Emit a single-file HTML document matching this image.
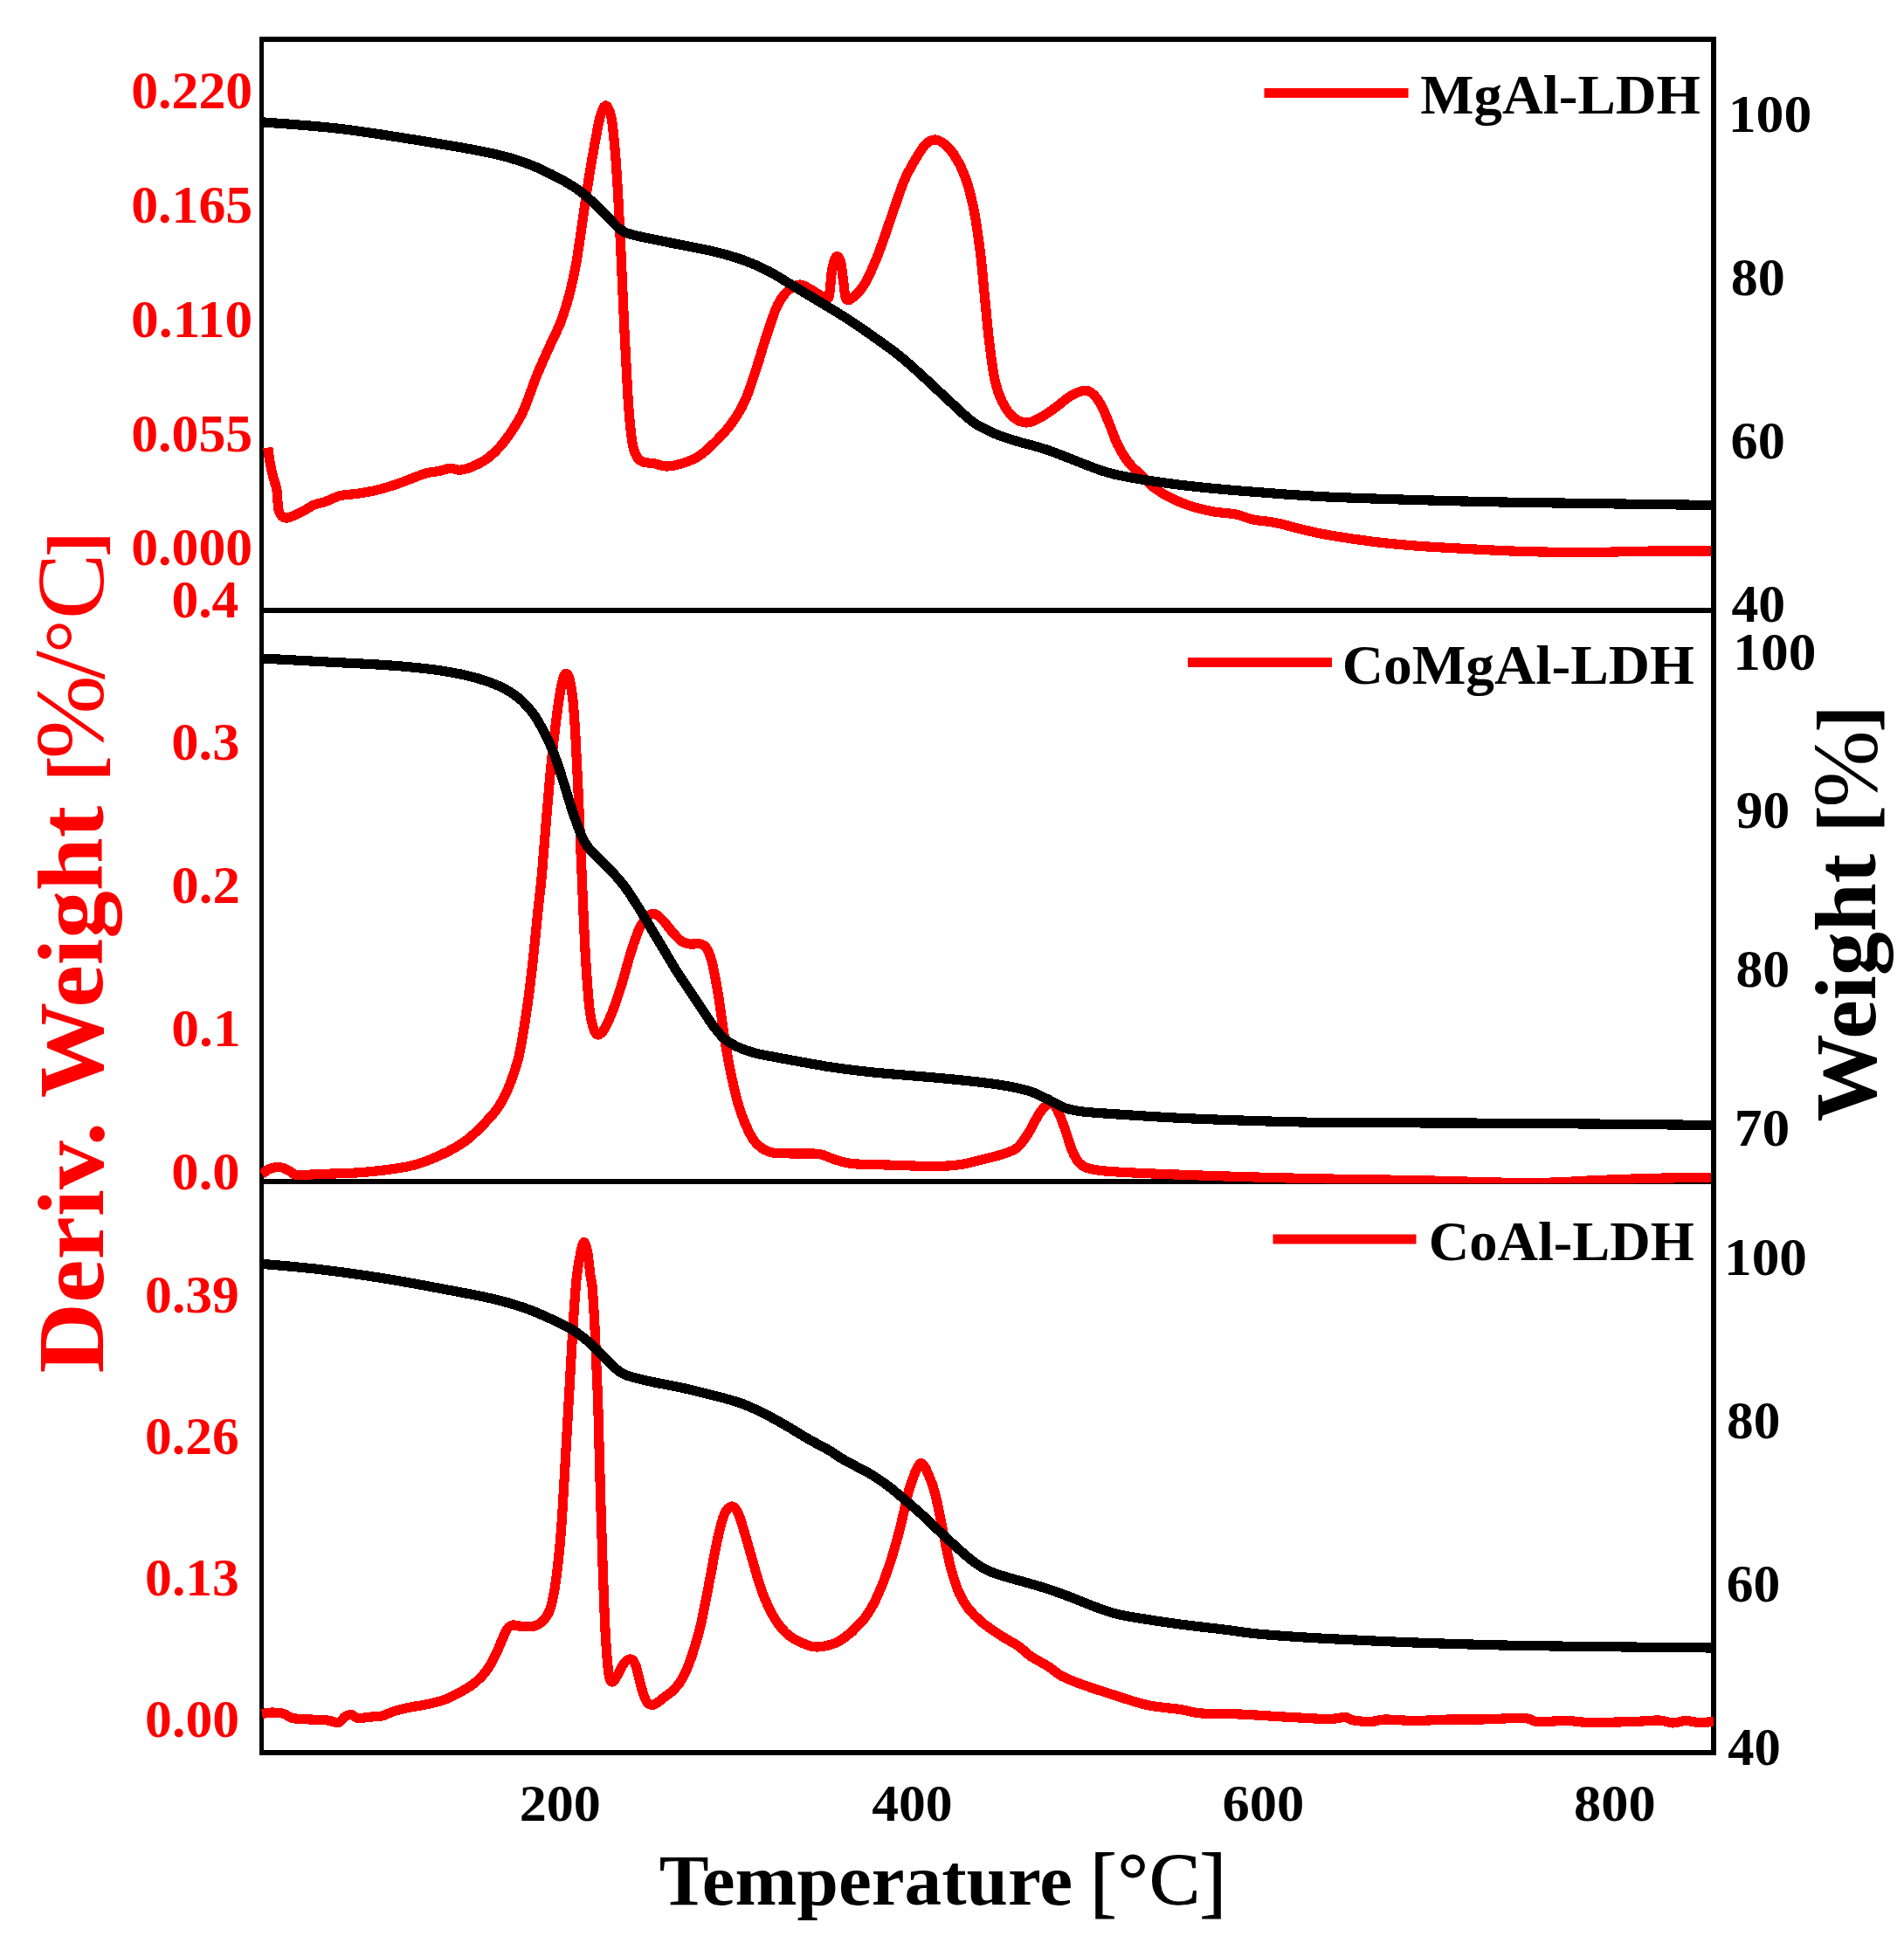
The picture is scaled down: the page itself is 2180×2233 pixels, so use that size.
<!DOCTYPE html>
<html lang="en"><head><meta charset="utf-8"><title>TG/DTG curves of LDH samples</title>
<style>html,body{margin:0;padding:0;background:#fff;}svg{display:block;}text{font-family:"Liberation Serif", serif;}.b{font-weight:bold;}.r{fill:#ff0000;}</style></head><body>
<svg width="2180" height="2233" viewBox="0 0 2180 2233">
<rect x="0" y="0" width="2180" height="2233" fill="#fff"/>
<defs><clipPath id="c1"><rect x="298" y="45" width="1661" height="654"/></clipPath><clipPath id="c2"><rect x="298" y="699" width="1661" height="656.2"/></clipPath><clipPath id="c3"><rect x="298" y="1353" width="1664" height="654"/></clipPath></defs>
<g fill="none" stroke="#000" stroke-width="5.6" stroke-linecap="square" shape-rendering="crispEdges">
<rect x="299.5" y="45.0" width="1662.5" height="1962.0"/>
<line x1="299.5" y1="699.0" x2="1962.0" y2="699.0"/>
<line x1="299.5" y1="1353.0" x2="1962.0" y2="1353.0"/>
</g>
<g fill="none" stroke-linejoin="round" stroke-linecap="butt" shape-rendering="crispEdges" clip-path="url(#c1)">
<path stroke="#ff0000" stroke-width="11.2" d="M306.8,512.5C307.1,515.0 307.8,522.1 308.8,527.5C309.7,532.9 311.2,539.6 312.5,545.0C313.8,550.4 315.8,555.0 316.8,560.0C317.7,565.0 317.5,570.7 318.0,575.0C318.5,579.3 318.5,583.2 319.5,586.0C320.5,588.8 322.2,590.8 323.8,592.0C325.3,593.2 326.7,593.2 328.8,593.0C330.8,592.8 333.1,591.8 336.2,590.5C339.4,589.2 343.5,587.1 347.5,585.0C351.5,582.9 355.8,579.8 360.0,578.0C364.2,576.2 367.5,576.2 372.5,574.5C377.5,572.8 384.2,569.0 390.0,567.5C395.8,566.0 400.8,566.5 407.5,565.5C414.2,564.5 422.5,563.2 430.0,561.5C437.5,559.8 445.8,557.2 452.5,555.0C459.2,552.8 464.2,550.7 470.0,548.5C475.8,546.3 482.1,543.5 487.5,542.0C492.9,540.5 498.3,540.4 502.5,539.5C506.7,538.6 509.6,537.2 512.5,536.8C515.4,536.3 517.8,536.8 520.0,537.0C522.2,537.2 523.3,538.4 526.0,538.2C528.7,538.1 532.0,537.6 536.0,536.2C540.0,534.9 546.0,532.1 550.0,530.0C554.0,527.9 556.2,526.6 560.0,523.5C563.8,520.4 568.3,516.2 572.5,511.5C576.7,506.8 580.6,501.8 585.0,495.0C589.4,488.2 594.0,482.0 599.0,471.0C604.0,460.0 609.8,441.7 615.0,429.0C620.2,416.3 625.4,405.2 630.0,395.0C634.6,384.8 638.8,377.5 642.5,367.5C646.2,357.5 649.6,346.2 652.5,335.0C655.4,323.8 657.8,312.5 660.0,300.0C662.2,287.5 663.9,274.2 666.0,260.0C668.1,245.8 670.2,230.0 672.5,215.0C674.8,200.0 677.5,183.8 680.0,170.0C682.5,156.2 685.2,140.7 687.5,132.5C689.8,124.3 691.9,120.6 694.0,121.0C696.1,121.4 698.3,126.8 700.0,135.0C701.7,143.2 702.8,155.8 704.0,170.0C705.2,184.2 706.3,200.0 707.5,220.0C708.7,240.0 709.8,263.3 711.0,290.0C712.2,316.7 713.7,352.5 715.0,380.0C716.3,407.5 717.7,435.0 719.0,455.0C720.3,475.0 721.6,489.2 723.0,500.0C724.4,510.8 725.5,515.2 727.5,520.0C729.5,524.8 731.2,526.7 735.0,528.5C738.8,530.3 745.4,530.1 750.0,531.0C754.6,531.9 757.5,534.0 762.5,534.0C767.5,534.0 773.8,532.9 780.0,531.0C786.2,529.1 793.3,526.8 800.0,522.5C806.7,518.2 813.8,511.2 820.0,505.0C826.2,498.8 832.1,492.5 837.5,485.0C842.9,477.5 847.9,470.0 852.5,460.0C857.1,450.0 860.8,437.5 865.0,425.0C869.2,412.5 873.3,397.5 877.5,385.0C881.7,372.5 885.8,358.8 890.0,350.0C894.2,341.2 898.2,336.5 902.5,332.5C906.8,328.5 911.4,326.0 916.0,326.0C920.6,326.0 925.6,330.2 930.0,332.5C934.4,334.8 939.3,338.8 942.5,340.0C945.7,341.2 947.3,345.0 949.0,340.0C950.7,335.0 951.1,317.7 952.5,310.0C953.9,302.3 955.8,295.7 957.5,294.0C959.2,292.3 961.1,294.8 962.5,300.0C963.9,305.2 964.9,317.9 966.0,325.0C967.1,332.1 967.1,340.0 969.0,342.5C970.9,345.0 974.0,342.9 977.5,340.0C981.0,337.1 985.4,332.9 990.0,325.0C994.6,317.1 1000.0,305.0 1005.0,292.5C1010.0,280.0 1015.0,264.2 1020.0,250.0C1025.0,235.8 1030.2,219.0 1035.0,207.5C1039.8,196.0 1044.8,188.1 1049.0,181.0C1053.2,173.9 1056.5,168.5 1060.0,165.0C1063.5,161.5 1066.7,160.2 1070.0,160.0C1073.3,159.8 1076.2,161.1 1080.0,164.0C1083.8,166.9 1088.3,171.1 1092.5,177.5C1096.7,183.9 1101.2,192.1 1105.0,202.5C1108.8,212.9 1112.1,225.4 1115.0,240.0C1117.9,254.6 1120.4,273.3 1122.5,290.0C1124.6,306.7 1125.8,323.3 1127.5,340.0C1129.2,356.7 1130.6,374.2 1132.5,390.0C1134.4,405.8 1136.5,423.3 1139.0,435.0C1141.5,446.7 1144.0,452.9 1147.5,460.0C1151.0,467.1 1155.4,473.5 1160.0,477.5C1164.6,481.5 1170.0,483.8 1175.0,484.0C1180.0,484.2 1184.6,481.8 1190.0,479.0C1195.4,476.2 1201.7,471.7 1207.5,467.5C1213.3,463.3 1219.6,457.3 1225.0,454.0C1230.4,450.7 1235.8,448.2 1240.0,447.5C1244.2,446.8 1246.7,447.5 1250.0,450.0C1253.3,452.5 1256.7,456.7 1260.0,462.5C1263.3,468.3 1266.7,477.1 1270.0,485.0C1273.3,492.9 1276.2,502.5 1280.0,510.0C1283.8,517.5 1287.9,524.2 1292.5,530.0C1297.1,535.8 1302.9,540.4 1307.5,545.0C1312.1,549.6 1314.6,553.3 1320.0,557.5C1325.4,561.7 1332.5,566.2 1340.0,570.0C1347.5,573.8 1356.7,577.3 1365.0,580.0C1373.3,582.7 1381.7,584.5 1390.0,586.0C1398.3,587.5 1407.5,587.5 1415.0,589.0C1422.5,590.5 1427.5,593.4 1435.0,595.0C1442.5,596.6 1450.8,596.7 1460.0,598.5C1469.2,600.3 1480.0,603.7 1490.0,606.0C1500.0,608.3 1506.7,610.2 1520.0,612.5C1533.3,614.8 1553.3,617.9 1570.0,620.0C1586.7,622.1 1603.3,623.7 1620.0,625.0C1636.7,626.3 1649.2,626.9 1670.0,628.0C1690.8,629.1 1720.0,630.8 1745.0,631.5C1770.0,632.2 1795.0,632.6 1820.0,632.5C1845.0,632.4 1871.3,631.2 1895.0,631.0C1918.7,630.8 1950.8,631.0 1962.0,631.0"/>
<path stroke="#000" stroke-width="11.2" d="M302.0,140.0C316.7,141.2 358.7,143.8 390.0,147.5C421.3,151.2 460.8,157.8 490.0,162.5C519.2,167.2 546.7,172.1 565.0,176.0C583.3,179.9 589.2,182.2 600.0,186.0C610.8,189.8 620.0,194.0 630.0,199.0C640.0,204.0 651.7,210.4 660.0,216.0C668.3,221.6 674.2,227.2 680.0,232.5C685.8,237.8 690.0,242.5 695.0,247.5C700.0,252.5 705.0,258.9 710.0,262.5C715.0,266.1 715.8,266.5 725.0,269.0C734.2,271.5 750.0,274.4 765.0,277.5C780.0,280.6 800.8,284.2 815.0,287.5C829.2,290.8 839.2,293.7 850.0,297.5C860.8,301.3 870.0,305.3 880.0,310.5C890.0,315.7 900.0,322.5 910.0,328.5C920.0,334.5 930.0,340.4 940.0,346.5C950.0,352.6 960.0,358.5 970.0,365.0C980.0,371.5 990.0,378.4 1000.0,385.5C1010.0,392.6 1020.0,399.4 1030.0,407.5C1040.0,415.6 1050.0,424.9 1060.0,434.0C1070.0,443.1 1080.8,453.7 1090.0,462.0C1099.2,470.3 1106.7,478.2 1115.0,484.0C1123.3,489.8 1131.7,493.4 1140.0,497.0C1148.3,500.6 1155.0,502.4 1165.0,505.5C1175.0,508.6 1184.2,510.0 1200.0,515.5C1215.8,521.0 1245.0,533.4 1260.0,538.5C1275.0,543.6 1278.3,543.7 1290.0,546.0C1301.7,548.3 1315.0,550.4 1330.0,552.5C1345.0,554.6 1360.8,556.6 1380.0,558.5C1399.2,560.4 1421.7,562.2 1445.0,564.0C1468.3,565.8 1490.8,567.6 1520.0,569.0C1549.2,570.4 1586.7,571.5 1620.0,572.5C1653.3,573.5 1686.7,574.3 1720.0,575.0C1753.3,575.7 1779.7,575.9 1820.0,576.5C1860.3,577.1 1938.3,578.2 1962.0,578.5"/>
</g>
<g fill="none" stroke-linejoin="round" stroke-linecap="butt" shape-rendering="crispEdges" clip-path="url(#c2)">
<path stroke="#ff0000" stroke-width="11.2" d="M300.0,1345.0C301.2,1344.0 304.2,1340.4 307.5,1339.0C310.8,1337.6 316.2,1336.3 320.0,1336.5C323.8,1336.7 326.7,1338.5 330.0,1340.0C333.3,1341.5 334.2,1344.8 340.0,1345.5C345.8,1346.2 352.5,1345.0 365.0,1344.5C377.5,1344.0 398.3,1343.9 415.0,1342.5C431.7,1341.1 452.5,1338.5 465.0,1336.2C477.5,1334.0 481.7,1331.9 490.0,1328.8C498.3,1325.6 507.5,1321.5 515.0,1317.5C522.5,1313.5 528.8,1309.8 535.0,1305.0C541.2,1300.2 547.1,1294.2 552.5,1288.8C557.9,1283.2 563.2,1277.6 567.5,1272.0C571.8,1266.4 575.2,1260.3 578.0,1255.0C580.8,1249.7 581.9,1246.8 584.4,1240.0C586.9,1233.2 590.6,1222.8 592.9,1214.3C595.2,1205.8 596.2,1199.6 598.0,1189.1C599.8,1178.6 602.1,1163.9 603.9,1151.3C605.7,1138.7 607.2,1126.1 608.7,1113.5C610.2,1100.9 611.4,1088.2 612.7,1075.6C614.0,1063.0 615.2,1049.9 616.5,1037.8C617.8,1025.7 619.3,1013.6 620.3,1003.0C621.3,992.4 621.7,985.4 622.6,974.3C623.5,963.2 624.7,949.1 625.7,936.5C626.8,923.9 627.8,911.3 628.9,898.7C630.0,886.1 631.2,873.4 632.6,860.8C634.0,848.2 635.5,834.5 637.0,823.0C638.5,811.5 640.2,799.8 641.5,792.0C642.8,784.2 643.9,780.0 645.0,776.5C646.1,773.0 647.0,771.0 648.2,771.2C649.4,771.4 650.7,772.3 652.0,777.5C653.3,782.7 654.8,791.2 656.0,802.5C657.2,813.8 658.0,827.9 659.0,845.0C660.0,862.1 661.0,883.3 662.0,905.0C663.0,926.7 664.0,951.7 665.0,975.0C666.0,998.3 667.0,1023.3 668.0,1045.0C669.0,1066.7 669.8,1086.7 671.0,1105.0C672.2,1123.3 673.5,1142.7 675.0,1155.0C676.5,1167.3 678.3,1174.0 680.0,1179.0C681.7,1184.0 682.9,1185.2 685.0,1185.0C687.1,1184.8 689.6,1182.5 692.5,1177.5C695.4,1172.5 699.2,1163.8 702.5,1155.0C705.8,1146.2 709.2,1135.8 712.5,1125.0C715.8,1114.2 719.2,1100.4 722.5,1090.0C725.8,1079.6 729.2,1069.3 732.5,1062.5C735.8,1055.7 739.6,1051.7 742.5,1049.0C745.4,1046.3 747.1,1045.5 750.0,1046.5C752.9,1047.5 756.7,1051.5 760.0,1055.0C763.3,1058.5 766.7,1063.8 770.0,1067.5C773.3,1071.2 776.7,1075.2 780.0,1077.5C783.3,1079.8 786.2,1080.4 790.0,1081.0C793.8,1081.6 799.2,1079.9 802.5,1081.0C805.8,1082.1 807.8,1083.5 810.0,1087.5C812.2,1091.5 813.9,1096.2 816.0,1105.0C818.1,1113.8 820.3,1126.7 822.5,1140.0C824.7,1153.3 826.8,1170.8 829.0,1185.0C831.2,1199.2 833.5,1212.5 836.0,1225.0C838.5,1237.5 841.2,1250.0 844.0,1260.0C846.8,1270.0 849.4,1277.5 852.5,1285.0C855.6,1292.5 859.2,1300.0 862.5,1305.0C865.8,1310.0 868.8,1312.5 872.5,1315.0C876.2,1317.5 878.8,1319.0 885.0,1320.0C891.2,1321.0 901.2,1320.8 910.0,1321.0C918.8,1321.2 930.0,1320.4 937.5,1321.5C945.0,1322.6 948.8,1325.7 955.0,1327.5C961.2,1329.3 965.0,1331.4 975.0,1332.5C985.0,1333.6 999.2,1333.5 1015.0,1334.0C1030.8,1334.5 1055.8,1335.6 1070.0,1335.5C1084.2,1335.4 1090.0,1335.0 1100.0,1333.5C1110.0,1332.0 1121.7,1328.6 1130.0,1326.5C1138.3,1324.4 1144.2,1323.1 1150.0,1321.0C1155.8,1318.9 1160.4,1317.9 1165.0,1314.0C1169.6,1310.1 1173.3,1304.0 1177.5,1297.5C1181.7,1291.0 1186.4,1280.4 1190.0,1275.0C1193.6,1269.6 1196.5,1267.0 1199.0,1265.0C1201.5,1263.0 1202.8,1261.3 1205.0,1263.0C1207.2,1264.7 1210.0,1269.7 1212.5,1275.0C1215.0,1280.3 1217.5,1287.9 1220.0,1295.0C1222.5,1302.1 1225.0,1311.5 1227.5,1317.5C1230.0,1323.5 1232.1,1327.7 1235.0,1331.0C1237.9,1334.3 1240.0,1335.8 1245.0,1337.5C1250.0,1339.2 1252.5,1339.9 1265.0,1341.0C1277.5,1342.1 1294.2,1342.9 1320.0,1344.0C1345.8,1345.1 1386.7,1346.5 1420.0,1347.5C1453.3,1348.5 1486.7,1349.3 1520.0,1350.0C1553.3,1350.7 1590.8,1350.9 1620.0,1351.5C1649.2,1352.1 1675.0,1353.0 1695.0,1353.5C1715.0,1354.0 1725.8,1354.4 1740.0,1354.5C1754.2,1354.6 1765.0,1354.5 1780.0,1354.0C1795.0,1353.5 1810.8,1352.3 1830.0,1351.5C1849.2,1350.7 1873.0,1349.8 1895.0,1349.2C1917.0,1348.8 1950.8,1348.6 1962.0,1348.5"/>
<path stroke="#000" stroke-width="11.2" d="M300.0,754.0C310.8,754.6 341.7,756.2 365.0,757.5C388.3,758.8 419.2,760.1 440.0,761.5C460.8,762.9 475.0,764.2 490.0,766.0C505.0,767.8 518.3,770.0 530.0,772.5C541.7,775.0 551.7,778.1 560.0,781.0C568.3,783.9 573.8,786.4 580.0,790.0C586.2,793.6 592.1,797.5 597.5,802.5C602.9,807.5 607.9,813.3 612.5,820.0C617.1,826.7 621.2,835.0 625.0,842.5C628.8,850.0 631.7,856.2 635.0,865.0C638.3,873.8 641.7,884.6 645.0,895.0C648.3,905.4 651.7,917.5 655.0,927.5C658.3,937.5 662.1,948.1 665.0,955.0C667.9,961.9 669.2,964.4 672.5,969.0C675.8,973.6 680.4,977.8 685.0,982.5C689.6,987.2 695.0,992.1 700.0,997.5C705.0,1002.9 710.0,1008.3 715.0,1015.0C720.0,1021.7 725.0,1029.6 730.0,1037.5C735.0,1045.4 740.0,1054.2 745.0,1062.5C750.0,1070.8 755.0,1079.2 760.0,1087.5C765.0,1095.8 770.0,1104.6 775.0,1112.5C780.0,1120.4 785.0,1127.5 790.0,1135.0C795.0,1142.5 800.4,1150.7 805.0,1157.5C809.6,1164.3 813.3,1170.6 817.5,1176.0C821.7,1181.4 825.4,1186.2 830.0,1190.0C834.6,1193.8 839.2,1196.3 845.0,1199.0C850.8,1201.7 857.5,1204.0 865.0,1206.0C872.5,1208.0 880.8,1209.2 890.0,1211.0C899.2,1212.8 909.2,1214.6 920.0,1216.5C930.8,1218.4 941.7,1220.6 955.0,1222.5C968.3,1224.4 980.8,1226.1 1000.0,1228.0C1019.2,1229.9 1050.0,1232.2 1070.0,1234.0C1090.0,1235.8 1105.8,1237.3 1120.0,1239.0C1134.2,1240.7 1145.0,1242.2 1155.0,1244.0C1165.0,1245.8 1172.5,1247.5 1180.0,1250.0C1187.5,1252.5 1193.3,1255.8 1200.0,1259.0C1206.7,1262.2 1213.3,1266.7 1220.0,1269.0C1226.7,1271.3 1230.0,1271.8 1240.0,1273.0C1250.0,1274.2 1262.5,1274.8 1280.0,1276.0C1297.5,1277.2 1321.7,1278.8 1345.0,1280.0C1368.3,1281.2 1390.8,1282.1 1420.0,1283.0C1449.2,1283.9 1478.3,1285.0 1520.0,1285.5C1561.7,1286.0 1620.0,1285.8 1670.0,1286.0C1720.0,1286.2 1771.3,1286.6 1820.0,1287.0C1868.7,1287.4 1938.3,1288.2 1962.0,1288.5"/>
</g>
<g fill="none" stroke-linejoin="round" stroke-linecap="butt" shape-rendering="crispEdges" clip-path="url(#c3)">
<path stroke="#ff0000" stroke-width="11.2" d="M300.0,1962.5C302.1,1962.2 308.3,1961.0 312.5,1961.0C316.7,1961.0 321.2,1961.4 325.0,1962.5C328.8,1963.6 330.0,1966.4 335.0,1967.5C340.0,1968.6 348.3,1968.6 355.0,1969.0C361.7,1969.4 369.6,1969.4 375.0,1970.0C380.4,1970.6 384.2,1973.2 387.5,1972.5C390.8,1971.8 392.5,1967.5 395.0,1966.0C397.5,1964.5 400.0,1963.2 402.5,1963.5C405.0,1963.8 406.2,1967.1 410.0,1967.5C413.8,1967.9 420.4,1966.4 425.0,1966.0C429.6,1965.6 433.3,1966.0 437.5,1965.0C441.7,1964.0 444.6,1961.7 450.0,1960.0C455.4,1958.3 463.3,1956.4 470.0,1955.0C476.7,1953.6 483.3,1953.0 490.0,1951.5C496.7,1950.0 503.3,1948.6 510.0,1946.0C516.7,1943.4 524.2,1939.3 530.0,1936.0C535.8,1932.7 540.4,1929.9 545.0,1926.0C549.6,1922.1 553.8,1917.7 557.5,1912.5C561.2,1907.3 564.6,1900.8 567.5,1895.0C570.4,1889.2 572.8,1882.5 575.0,1877.5C577.2,1872.5 578.9,1867.8 581.0,1865.0C583.1,1862.2 584.8,1861.4 587.5,1861.0C590.2,1860.6 593.8,1862.2 597.5,1862.5C601.2,1862.8 606.2,1863.3 610.0,1862.5C613.8,1861.7 616.8,1860.4 620.0,1857.5C623.2,1854.6 626.5,1851.2 629.0,1845.0C631.5,1838.8 633.2,1830.8 635.0,1820.0C636.8,1809.2 638.5,1795.0 640.0,1780.0C641.5,1765.0 642.7,1750.0 644.0,1730.0C645.3,1710.0 646.7,1683.3 648.0,1660.0C649.3,1636.7 650.7,1613.3 652.0,1590.0C653.3,1566.7 654.7,1540.8 656.0,1520.0C657.3,1499.2 658.6,1478.8 660.0,1465.0C661.4,1451.2 663.2,1443.8 664.2,1437.5C665.3,1431.2 665.8,1429.5 666.5,1427.0C667.2,1424.5 668.0,1422.5 668.8,1422.5C669.5,1422.5 670.2,1424.5 671.0,1427.0C671.8,1429.5 672.4,1431.6 673.2,1437.5C674.1,1443.4 675.4,1456.2 676.2,1462.5C677.1,1468.8 677.4,1463.8 678.2,1475.0C679.1,1486.2 680.4,1507.5 681.5,1530.0C682.6,1552.5 683.8,1581.7 684.8,1610.0C685.7,1638.3 686.4,1670.0 687.2,1700.0C688.1,1730.0 689.0,1761.7 690.0,1790.0C691.0,1818.3 692.1,1849.2 693.2,1870.0C694.4,1890.8 695.5,1905.7 696.8,1915.0C698.0,1924.3 699.2,1925.6 701.0,1926.0C702.8,1926.4 705.2,1921.2 707.5,1917.5C709.8,1913.8 712.5,1906.9 715.0,1904.0C717.5,1901.1 720.4,1899.7 722.5,1900.0C724.6,1900.3 725.8,1901.8 727.5,1906.0C729.2,1910.2 730.8,1918.9 732.5,1925.0C734.2,1931.1 735.8,1938.2 737.5,1942.5C739.2,1946.8 740.4,1949.5 742.5,1951.0C744.6,1952.5 747.1,1952.7 750.0,1951.5C752.9,1950.3 756.2,1946.9 760.0,1944.0C763.8,1941.1 768.8,1938.0 772.5,1934.0C776.2,1930.0 779.2,1926.5 782.5,1920.0C785.8,1913.5 789.2,1905.0 792.5,1895.0C795.8,1885.0 799.2,1874.2 802.5,1860.0C805.8,1845.8 809.4,1825.8 812.5,1810.0C815.6,1794.2 818.2,1777.5 821.0,1765.0C823.8,1752.5 826.2,1741.7 829.0,1735.0C831.8,1728.3 834.8,1725.4 837.5,1725.0C840.2,1724.6 842.5,1727.5 845.0,1732.5C847.5,1737.5 849.6,1745.4 852.5,1755.0C855.4,1764.6 859.2,1778.8 862.5,1790.0C865.8,1801.2 868.8,1812.5 872.5,1822.5C876.2,1832.5 880.4,1842.1 885.0,1850.0C889.6,1857.9 894.6,1864.8 900.0,1870.0C905.4,1875.2 911.7,1878.3 917.5,1881.0C923.3,1883.7 928.3,1886.0 935.0,1886.0C941.7,1886.0 950.8,1883.8 957.5,1881.0C964.2,1878.2 971.9,1871.2 975.0,1869.0C978.1,1866.8 973.8,1869.8 976.0,1867.5C978.2,1865.2 984.5,1860.0 988.5,1855.0C992.5,1850.0 996.0,1844.6 999.8,1837.5C1003.5,1830.4 1007.7,1820.8 1011.0,1812.5C1014.3,1804.2 1017.0,1795.8 1019.8,1787.5C1022.5,1779.2 1025.0,1770.8 1027.2,1762.5C1029.5,1754.2 1031.5,1746.1 1033.5,1737.5C1035.5,1728.9 1037.4,1718.9 1039.5,1711.0C1041.6,1703.1 1044.4,1695.2 1046.3,1690.0C1048.2,1684.8 1049.6,1681.9 1051.0,1679.5C1052.4,1677.1 1053.5,1675.5 1054.8,1675.5C1056.0,1675.5 1057.3,1677.3 1058.7,1679.5C1060.1,1681.7 1061.5,1685.1 1063.0,1688.5C1064.5,1691.9 1066.1,1695.8 1067.5,1700.0C1068.9,1704.2 1070.2,1709.0 1071.5,1714.0C1072.8,1719.0 1073.6,1723.2 1075.0,1730.0C1076.4,1736.8 1078.3,1746.7 1080.0,1755.0C1081.7,1763.3 1083.2,1772.2 1085.0,1780.0C1086.8,1787.8 1088.3,1794.7 1090.5,1802.0C1092.7,1809.3 1095.1,1817.5 1098.0,1824.0C1100.9,1830.5 1103.7,1835.4 1108.0,1841.0C1112.3,1846.6 1117.7,1852.2 1124.0,1857.5C1130.3,1862.8 1139.0,1868.4 1146.0,1873.0C1153.0,1877.6 1160.3,1881.1 1166.0,1885.0C1171.7,1888.9 1174.2,1892.5 1180.0,1896.5C1185.8,1900.5 1195.0,1904.9 1201.0,1908.8C1207.0,1912.6 1209.8,1916.2 1216.0,1919.5C1222.2,1922.8 1228.5,1925.1 1238.5,1928.8C1248.5,1932.4 1263.5,1937.3 1276.0,1941.2C1288.5,1945.2 1301.0,1949.8 1313.5,1952.5C1326.0,1955.2 1340.6,1955.9 1351.0,1957.5C1361.4,1959.1 1364.5,1961.1 1376.0,1962.0C1387.5,1962.9 1404.3,1962.3 1420.0,1963.0C1435.7,1963.7 1453.3,1965.1 1470.0,1966.0C1486.7,1966.9 1508.3,1968.4 1520.0,1968.5C1531.7,1968.6 1535.0,1966.2 1540.0,1966.5C1545.0,1966.8 1545.0,1969.2 1550.0,1970.0C1555.0,1970.8 1564.2,1971.7 1570.0,1971.5C1575.8,1971.3 1576.7,1969.2 1585.0,1969.0C1593.3,1968.8 1607.5,1970.5 1620.0,1970.5C1632.5,1970.5 1647.5,1969.2 1660.0,1969.0C1672.5,1968.8 1680.8,1969.2 1695.0,1969.0C1709.2,1968.8 1734.2,1967.1 1745.0,1967.5C1755.8,1967.9 1751.7,1971.0 1760.0,1971.5C1768.3,1972.0 1785.0,1970.3 1795.0,1970.5C1805.0,1970.7 1807.5,1972.3 1820.0,1972.5C1832.5,1972.7 1856.7,1971.9 1870.0,1971.5C1883.3,1971.1 1892.5,1969.8 1900.0,1970.0C1907.5,1970.2 1910.0,1972.9 1915.0,1973.0C1920.0,1973.1 1925.0,1970.6 1930.0,1970.5C1935.0,1970.4 1939.7,1972.3 1945.0,1972.5C1950.3,1972.7 1959.2,1971.7 1962.0,1971.5"/>
<path stroke="#000" stroke-width="11.2" d="M302.0,1447.5C312.5,1448.5 342.0,1450.8 365.0,1453.5C388.0,1456.2 415.0,1460.0 440.0,1464.0C465.0,1468.0 494.2,1473.6 515.0,1477.5C535.8,1481.4 550.8,1484.2 565.0,1487.5C579.2,1490.8 589.2,1493.8 600.0,1497.5C610.8,1501.2 620.8,1505.8 630.0,1510.0C639.2,1514.2 647.5,1517.9 655.0,1522.5C662.5,1527.1 669.2,1532.5 675.0,1537.5C680.8,1542.5 685.4,1547.9 690.0,1552.5C694.6,1557.1 698.3,1561.4 702.5,1565.0C706.7,1568.6 708.8,1571.3 715.0,1574.0C721.2,1576.7 729.2,1578.5 740.0,1581.0C750.8,1583.5 770.0,1586.9 780.0,1589.0C790.0,1591.1 792.5,1591.9 800.0,1593.8C807.5,1595.6 816.7,1597.7 825.0,1600.0C833.3,1602.3 841.7,1604.4 850.0,1607.5C858.3,1610.6 866.7,1614.6 875.0,1618.8C883.3,1622.9 891.7,1627.7 900.0,1632.5C908.3,1637.3 916.7,1642.7 925.0,1647.5C933.3,1652.3 943.8,1657.6 950.0,1661.2C956.2,1664.9 957.5,1666.5 962.5,1669.5C967.5,1672.5 973.8,1675.6 980.0,1679.0C986.2,1682.4 993.3,1685.8 1000.0,1690.0C1006.7,1694.2 1013.8,1699.2 1020.0,1704.0C1026.2,1708.8 1031.7,1713.8 1037.5,1718.8C1043.3,1723.8 1048.8,1728.3 1055.0,1734.0C1061.2,1739.7 1068.3,1746.8 1075.0,1753.0C1081.7,1759.2 1088.7,1765.8 1095.0,1771.5C1101.3,1777.2 1107.2,1782.6 1113.0,1787.0C1118.8,1791.4 1123.7,1794.9 1130.0,1798.0C1136.3,1801.1 1143.3,1803.1 1151.0,1805.5C1158.7,1807.9 1167.7,1810.1 1176.0,1812.5C1184.3,1814.9 1192.7,1817.2 1201.0,1820.0C1209.3,1822.8 1217.7,1825.8 1226.0,1829.0C1234.3,1832.2 1242.7,1835.9 1251.0,1839.0C1259.3,1842.1 1267.7,1845.2 1276.0,1847.5C1284.3,1849.8 1288.5,1850.4 1301.0,1852.5C1313.5,1854.6 1334.3,1857.8 1351.0,1860.0C1367.7,1862.2 1385.3,1864.1 1401.0,1866.0C1416.7,1867.9 1425.2,1869.8 1445.0,1871.5C1464.8,1873.2 1490.8,1874.9 1520.0,1876.5C1549.2,1878.1 1586.7,1879.8 1620.0,1881.0C1653.3,1882.2 1686.7,1883.2 1720.0,1884.0C1753.3,1884.8 1779.7,1885.0 1820.0,1885.5C1860.3,1886.0 1938.3,1886.8 1962.0,1887.0"/>
</g>
<text transform="translate(150.18,124.28) scale(1.0077,1.0000)" font-size="61.32" class="b r">0.220</text>
<text transform="translate(150.18,255.38) scale(1.0077,1.0000)" font-size="61.32" class="b r">0.165</text>
<text transform="translate(150.12,386.48) scale(1.0338,1.0000)" font-size="61.32" class="b r">0.110</text>
<text transform="translate(150.18,516.98) scale(1.0077,1.0000)" font-size="61.32" class="b r">0.055</text>
<text transform="translate(150.18,646.98) scale(1.0077,1.0000)" font-size="61.32" class="b r">0.000</text>
<text transform="translate(196.39,706.58) scale(1.0043,1.0000)" font-size="61.32" class="b r">0.4</text>
<text transform="translate(196.36,870.38) scale(1.0193,1.0000)" font-size="61.32" class="b r">0.3</text>
<text transform="translate(196.34,1034.08) scale(1.0258,1.0000)" font-size="61.32" class="b r">0.2</text>
<text transform="translate(196.32,1198.28) scale(1.0346,1.0000)" font-size="61.32" class="b r">0.1</text>
<text transform="translate(196.35,1361.58) scale(1.0214,1.0000)" font-size="61.32" class="b r">0.0</text>
<text transform="translate(166.09,1502.98) scale(1.0051,1.0000)" font-size="61.32" class="b r">0.39</text>
<text transform="translate(166.10,1665.08) scale(1.0022,1.0000)" font-size="61.32" class="b r">0.26</text>
<text transform="translate(166.09,1827.08) scale(1.0051,1.0000)" font-size="61.32" class="b r">0.13</text>
<text transform="translate(166.09,1989.08) scale(1.0067,1.0000)" font-size="61.32" class="b r">0.00</text>
<text transform="translate(1978.70,151.38) scale(1.0278,1.0000)" font-size="62.07" class="b">100</text>
<text transform="translate(1981.78,338.28) scale(1.0012,1.0000)" font-size="62.07" class="b">80</text>
<text transform="translate(1981.62,525.28) scale(1.0039,1.0000)" font-size="62.07" class="b">60</text>
<text transform="translate(1982.53,712.18) scale(0.9937,1.0000)" font-size="62.07" class="b">40</text>
<text transform="translate(1984.23,767.08) scale(1.0219,1.0000)" font-size="62.07" class="b">100</text>
<text transform="translate(1987.71,948.08) scale(0.9907,1.0000)" font-size="62.07" class="b">90</text>
<text transform="translate(1987.39,1130.48) scale(0.9960,1.0000)" font-size="62.07" class="b">80</text>
<text transform="translate(1985.75,1311.68) scale(1.0235,1.0000)" font-size="62.07" class="b">70</text>
<text transform="translate(1973.93,1459.88) scale(1.0219,1.0000)" font-size="62.07" class="b">100</text>
<text transform="translate(1977.00,1647.08) scale(0.9891,1.0000)" font-size="62.07" class="b">80</text>
<text transform="translate(1976.85,1833.68) scale(0.9918,1.0000)" font-size="62.07" class="b">60</text>
<text transform="translate(1978.24,2020.88) scale(0.9768,1.0000)" font-size="62.07" class="b">40</text>
<text transform="translate(594.66,2085.41) scale(1.0482,1.0000)" font-size="59.26" class="b">200</text>
<text transform="translate(998.13,2085.41) scale(1.0393,1.0000)" font-size="59.26" class="b">400</text>
<text transform="translate(1399.51,2085.41) scale(1.0545,1.0000)" font-size="59.26" class="b">600</text>
<text transform="translate(1802.07,2085.41) scale(1.0526,1.0000)" font-size="59.26" class="b">800</text>
<text transform="scale(1.0203,1)"><tspan x="739.70" y="2180.70" font-size="83.51" class="b">Temperature </tspan><tspan x="1223.07" y="2184.85" font-size="90.00" stroke="#000" stroke-width="1.00">[</tspan><tspan x="1254.39" y="2180.82" font-size="85.29" stroke="#000" stroke-width="1.00">°</tspan><tspan x="1289.90" y="2180.65" font-size="85.35" stroke="#000" stroke-width="1.00">C</tspan><tspan x="1346.08" y="2184.85" font-size="90.00" stroke="#000" stroke-width="1.00">]</tspan></text>
<g transform="translate(118.3,1570) rotate(-90)">
<text transform="scale(1.0280,1)" class="r"><tspan x="-2.35" y="-0.27" font-size="108.44" class="b">Deriv. </tspan><tspan x="304.33" y="-1.60" font-size="106.42" class="b">Weight </tspan><tspan x="656.91" y="-3.86" font-size="85.66" class="b">[</tspan><tspan x="681.77" y="-0.40" font-size="112.18">%</tspan><tspan x="770.08" y="0.34" font-size="116.42">/</tspan><tspan x="799.71" y="-2.31" font-size="93.22">°</tspan><tspan x="837.30" y="-0.21" font-size="110.63">C</tspan><tspan x="906.72" y="-3.86" font-size="85.66" class="b">]</tspan></text>
</g>
<g transform="translate(2148.6,1283.2) rotate(-90)">
<text transform="scale(1.0140,1)"><tspan x="-1.48" y="-1.49" font-size="99.10" class="b">Weight </tspan><tspan x="325.08" y="-4.06" font-size="93.01" class="b">[</tspan><tspan x="353.58" y="0.09" font-size="104.80">%</tspan><tspan x="438.15" y="-4.06" font-size="93.01" class="b">]</tspan></text>
</g>
<line x1="1447.5" y1="106.5" x2="1612.5" y2="106.5" stroke="#ff0000" stroke-width="11"/>
<text transform="translate(1626.36,130.00) scale(1.0363,1.0000)" font-size="62.60" class="b">MgAl-LDH</text>
<line x1="1360.0" y1="758.5" x2="1525.0" y2="758.5" stroke="#ff0000" stroke-width="11"/>
<text transform="translate(1536.73,782.50) scale(1.0324,1.0000)" font-size="63.36" class="b">CoMgAl-LDH</text>
<line x1="1457.5" y1="1419.0" x2="1621.5" y2="1419.0" stroke="#ff0000" stroke-width="11"/>
<text transform="translate(1635.78,1442.50) scale(1.0045,1.0000)" font-size="64.12" class="b">CoAl-LDH</text>
</svg></body></html>
